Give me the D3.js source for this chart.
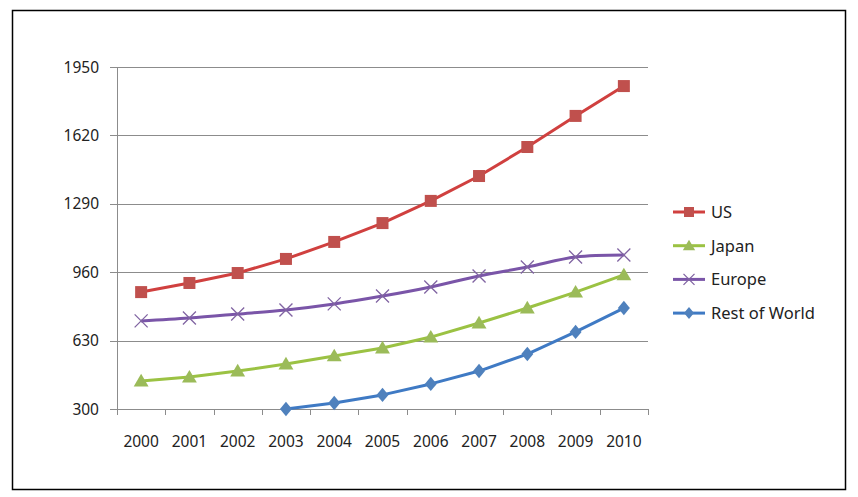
<!DOCTYPE html>
<html><head><meta charset="utf-8">
<script src="https://cdn.jsdelivr.net/npm/d3@7"></script>
<style>html,body{margin:0;padding:0;background:#fff;}svg{display:block;font-family:"Noto Sans","DejaVu Sans",sans-serif;}</style>
</head><body>
<svg id="c" width="858" height="497"></svg>
<script>
const years = ["2000","2001","2002","2003","2004","2005","2006","2007","2008","2009","2010"];
const yTicks = [300,630,960,1290,1620,1950];
const usValues = [864,908,956,1024,1106,1197,1304,1424,1564,1714,1858];
const japanValues = [435,454,483,517,556,594,647,715,787,864,947];
const europeValues = [725,739,758,778,807,845,889,942,985,1033,1043];
const rowValues = [null,null,null,300,329,368,421,483,565,672,787];
const seriesNames = ["US","Japan","Europe","Rest of World"];

(function(){
const series = [
  {name:seriesNames[0], values:usValues, color:"#C0504D", line:"#D0403F", marker:"square", curve:d3.curveLinear},
  {name:seriesNames[1], values:japanValues, color:"#9BBB59", line:"#9BC243", marker:"triangle", curve:d3.curveLinear},
  {name:seriesNames[2], values:europeValues, color:"#8064A2", line:"#7A55A8", marker:"x", curve:d3.curveCatmullRom},
  {name:seriesNames[3], values:rowValues, color:"#4F81BD", line:"#3F7AC4", marker:"diamond", curve:d3.curveLinear}
];

const svg = d3.select("#c");
svg.append("rect").attr("x",12.5).attr("y",10.5).attr("width",833).attr("height",479)
  .attr("fill","#fff").attr("stroke","#000").attr("stroke-width",1.5);

const pl=117, pr=648, pt=67, pb=409;
const x = d3.scaleBand().domain(years).range([pl,pr]);
const y = d3.scaleLinear().domain([300,1950]).range([pb,pt]);

svg.append("g").selectAll("line").data(yTicks).join("line")
  .attr("x1",pl-7).attr("x2",pr).attr("y1",d=>Math.round(y(d))+0.5).attr("y2",d=>Math.round(y(d))+0.5)
  .attr("stroke","#8c8c8c").attr("stroke-width",1);
svg.append("line").attr("x1",pl+0.5).attr("x2",pl+0.5).attr("y1",pt).attr("y2",pb+0.5).attr("stroke","#8c8c8c");
svg.append("g").selectAll("text").data(yTicks).join("text")
  .attr("x",99).attr("y",d=>y(d)+5.5).attr("text-anchor","end").attr("font-size",15.5).attr("fill","#222").text(d=>d);
const xb = [...years.map(d=>x(d)), pr];
svg.append("g").selectAll("line").data(xb).join("line")
  .attr("x1",d=>Math.round(d)+0.5).attr("x2",d=>Math.round(d)+0.5).attr("y1",pb).attr("y2",pb+6).attr("stroke","#8c8c8c");
svg.append("g").selectAll("text").data(years).join("text")
  .attr("x",d=>x(d)+x.bandwidth()/2).attr("y",447).attr("text-anchor","middle").attr("font-size",15.5).attr("fill","#222").text(d=>d);

function marker(g, type, color, s){
  if(type==="square") g.append("rect").attr("x",-s/2).attr("y",-s/2).attr("width",s).attr("height",s).attr("fill",color);
  else if(type==="triangle") g.append("path").attr("d",`M0,${-s*0.6}L${s*0.62},${s*0.45}L${-s*0.62},${s*0.45}Z`).attr("fill",color);
  else if(type==="diamond") g.append("path").attr("d",`M0,${-s*0.6}L${s*0.5},0L0,${s*0.6}L${-s*0.5},0Z`).attr("fill",color);
  else if(type==="x") g.append("path").attr("d",`M${-s/2},${-s/2}L${s/2},${s/2}M${-s/2},${s/2}L${s/2},${-s/2}`).attr("stroke",color).attr("stroke-width",1.3).attr("fill","none");
}

const cx = d => x(d)+x.bandwidth()/2;
series.forEach(s=>{
  const pts = years.map((yr,i)=>({yr, v:s.values[i]})).filter(p=>p.v!==null);
  const line = d3.line().x(p=>cx(p.yr)).y(p=>y(p.v)).curve(s.curve);
  svg.append("path").attr("d",line(pts)).attr("fill","none").attr("stroke",s.line).attr("stroke-width",3).attr("stroke-linejoin","round");
  pts.forEach(p=>{
    const g = svg.append("g").attr("transform",`translate(${cx(p.yr)},${y(p.v)})`);
    marker(g, s.marker, s.color, s.marker==="x"?13:12);
  });
});

const lg = svg.append("g");
series.forEach((s,i)=>{
  const ly = 212 + i*33.7;
  lg.append("line").attr("x1",673).attr("x2",705).attr("y1",ly).attr("y2",ly).attr("stroke",s.line).attr("stroke-width",3);
  const g = lg.append("g").attr("transform",`translate(689,${ly})`);
  marker(g, s.marker, s.color, s.marker==="x"?11:10);
  lg.append("text").attr("x",711).attr("y",ly+6).attr("font-size",16.5).attr("fill","#222").text(s.name);
});
})();
</script>
</body></html>
